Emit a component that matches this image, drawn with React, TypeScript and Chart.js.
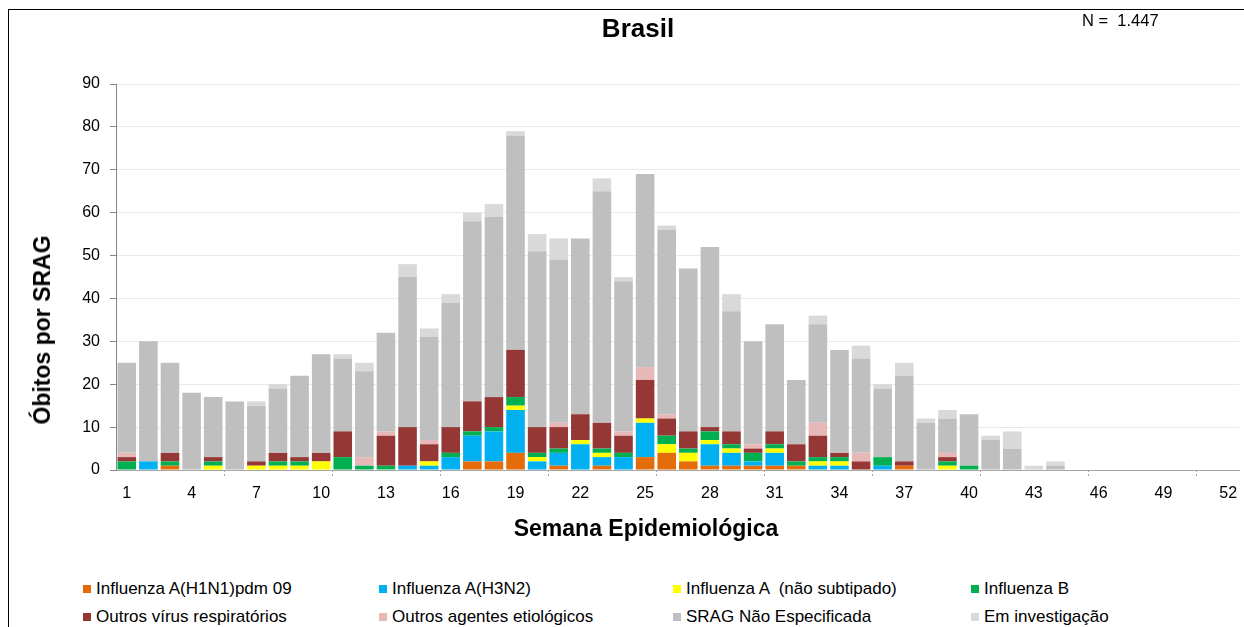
import React, { useEffect, useRef } from "react";
import { Chart, registerables } from "chart.js";

Chart.register(...registerables);

const FONT = "'Liberation Sans', Arial, sans-serif";

const weeks: string[] = Array.from({ length: 52 }, (_, i) => String(i + 1));
const tickLabelsShown: string[] = ["1", "4", "7", "10", "13", "16", "19", "22", "25", "28", "31", "34", "37", "40", "43", "46", "49", "52"];

const h1n1 = [0, 0, 1, 0, 0, 0, 0, 0, 0, 0, 0, 0, 0, 0, 0, 0, 2, 2, 4, 0, 1, 0, 1, 0, 3, 4, 2, 1, 1, 1, 1, 1, 0, 0, 0, 0, 1, 0, 0, 0, 0, 0, 0, 0, 0, 0, 0, 0, 0, 0, 0, 0];
const h3n2 = [0, 2, 0, 0, 0, 0, 0, 0, 0, 0, 0, 0, 0, 1, 1, 3, 6, 7, 10, 2, 3, 6, 2, 3, 8, 0, 0, 5, 3, 1, 3, 0, 1, 1, 0, 1, 0, 0, 0, 0, 0, 0, 0, 0, 0, 0, 0, 0, 0, 0, 0, 0];
const fluANaoSubtipado = [0, 0, 0, 0, 1, 0, 1, 1, 1, 2, 0, 0, 0, 0, 1, 0, 0, 0, 1, 1, 0, 1, 1, 0, 1, 2, 2, 1, 1, 0, 1, 0, 1, 1, 0, 0, 0, 0, 1, 0, 0, 0, 0, 0, 0, 0, 0, 0, 0, 0, 0, 0];
const fluB = [2, 0, 1, 0, 1, 0, 0, 1, 1, 0, 3, 1, 1, 0, 0, 1, 1, 1, 2, 1, 1, 0, 1, 1, 0, 2, 1, 2, 1, 2, 1, 1, 1, 1, 0, 2, 0, 0, 1, 1, 0, 0, 0, 0, 0, 0, 0, 0, 0, 0, 0, 0];
const outrosVirus = [1, 0, 2, 0, 1, 0, 1, 2, 1, 2, 6, 0, 7, 9, 4, 6, 7, 7, 11, 6, 5, 6, 6, 4, 9, 4, 4, 1, 3, 1, 3, 4, 5, 1, 2, 0, 1, 0, 1, 0, 0, 0, 0, 0, 0, 0, 0, 0, 0, 0, 0, 0];
const outrosAgentes = [1, 0, 0, 0, 0, 0, 0, 0, 0, 0, 0, 2, 1, 0, 1, 0, 0, 0, 0, 0, 1, 0, 0, 1, 3, 1, 0, 0, 0, 1, 0, 0, 3, 0, 2, 0, 0, 0, 1, 0, 0, 0, 0, 0, 0, 0, 0, 0, 0, 0, 0, 0];
const sragNaoEspecificada = [21, 28, 21, 18, 14, 16, 13, 15, 19, 23, 17, 20, 23, 35, 24, 29, 42, 42, 50, 41, 38, 41, 54, 35, 45, 43, 38, 42, 28, 24, 25, 15, 23, 24, 22, 16, 20, 11, 8, 12, 7, 5, 0, 1, 0, 0, 0, 0, 0, 0, 0, 0];
const emInvestigacao = [0, 0, 0, 0, 0, 0, 1, 1, 0, 0, 1, 2, 0, 3, 2, 2, 2, 3, 1, 4, 5, 0, 3, 1, 0, 1, 0, 0, 4, 0, 0, 0, 2, 0, 3, 1, 3, 1, 2, 0, 1, 4, 1, 1, 0, 0, 0, 0, 0, 0, 0, 0];

const seriesNames = [
  "Influenza A(H1N1)pdm 09",
  "Influenza A(H3N2)",
  "Influenza A  (não subtipado)",
  "Influenza B",
  "Outros vírus respiratórios",
  "Outros agentes etiológicos",
  "SRAG Não Especificada",
  "Em investigação",
];
const seriesColors = ["#E46C0A", "#00B0F0", "#FFFF00", "#00B050", "#953735", "#E6B9B8", "#BFBFBF", "#D9D9D9"];
const seriesData = [h1n1, h3n2, fluANaoSubtipado, fluB, outrosVirus, outrosAgentes, sragNaoEspecificada, emInvestigacao];

const yTicks = [0, 10, 20, 30, 40, 50, 60, 70, 80, 90];

const boundaryTicks = {
  id: "boundaryTicks",
  afterDraw(chart: any) {
    const x = chart.scales.x;
    const area = chart.chartArea;
    const ctx = chart.ctx;
    ctx.save();
    ctx.strokeStyle = "#A6A6A6";
    ctx.lineWidth = 1;
    ctx.setLineDash([2, 2]);
    for (let i = 5; i < weeks.length; i += 5) {
      const px = (x.getPixelForValue(i - 1) + x.getPixelForValue(i)) / 2;
      ctx.beginPath();
      ctx.moveTo(Math.round(px) + 0.5, area.bottom);
      ctx.lineTo(Math.round(px) + 0.5, area.bottom + 6);
      ctx.stroke();
    }
    ctx.restore();
  },
};

export default function App() {
  const ref = useRef<HTMLCanvasElement | null>(null);

  useEffect(() => {
    if (!ref.current) return;
    const chart = new Chart(ref.current, {
      type: "bar",
      data: {
        labels: weeks,
        datasets: seriesNames.map((name, i) => ({
          label: name,
          data: seriesData[i],
          backgroundColor: seriesColors[i],
          borderWidth: 0,
          barPercentage: 0.86,
          categoryPercentage: 1,
        })),
      },
      options: {
        responsive: false,
        animation: false,
        maintainAspectRatio: false,
        layout: { padding: { top: 84, right: 0, left: 0, bottom: 0 } },
        plugins: {
          legend: { display: false },
          title: { display: false },
          tooltip: { enabled: false },
        },
        scales: {
          x: {
            stacked: true,
            grid: { display: true, drawOnChartArea: false, drawTicks: false, color: "rgba(0,0,0,0)" },
            border: { display: true, color: "#A6A6A6", dash: [3, 3] },
            ticks: {
              autoSkip: false,
              maxRotation: 0,
              padding: 14,
              color: "#000",
              font: { family: FONT, size: 16 },
              callback: (_v: any, idx: number) => (tickLabelsShown.includes(weeks[idx]) ? weeks[idx] : null),
            },
            afterFit: (s: any) => {
              s.height = 90;
              s.paddingRight = 5;
              s.paddingLeft = 0;
            },
          },
          y: {
            stacked: true,
            min: 0,
            max: 90,
            afterBuildTicks: (s: any) => {
              s.ticks = yTicks.map((v) => ({ value: v }));
            },
            grid: {
              color: (c: any) => (c.tick && c.tick.value === 0 ? "rgba(0,0,0,0)" : "#E9E9E9"),
              tickColor: "#868686",
              tickLength: 6,
            },
            border: { display: true, color: "#868686" },
            ticks: {
              padding: 10,
              color: "#000",
              font: { family: FONT, size: 16 },
            },
            afterFit: (s: any) => {
              s.width = 116;
            },
          },
        },
      },
      plugins: [boundaryTicks],
    });
    return () => chart.destroy();
  }, []);

  const legendCols = [83, 379, 673, 971];
  const legendRows = [589, 617];

  return (
    <div style={{ position: "absolute", left: 0, top: 0, width: 1244, height: 627, overflow: "hidden", background: "#fff", fontFamily: FONT }}>
      <div style={{ position: "absolute", left: 8, top: 9, width: 1300, height: 700, border: "1px solid #000", boxSizing: "border-box" }} />
      <canvas ref={ref} width={1244} height={560} style={{ position: "absolute", left: 0, top: 0, width: 1244, height: 560 }} />
      <div style={{ position: "absolute", left: 538, width: 200, top: 12, textAlign: "center", fontWeight: "bold", fontSize: 26, lineHeight: "32px", color: "#000" }}>Brasil</div>
      <div style={{ position: "absolute", left: 1082, top: 10, fontSize: 16.5, lineHeight: "20px", color: "#000", whiteSpace: "pre" }}>{"N =  1.447"}</div>
      <div
        style={{
          position: "absolute",
          left: 42,
          top: 330,
          transform: "translate(-50%, -50%) rotate(-90deg)",
          fontWeight: "bold",
          fontSize: 23,
          lineHeight: "26px",
          whiteSpace: "nowrap",
          color: "#000",
        }}
      >
        Óbitos por SRAG
      </div>
      <div style={{ position: "absolute", left: 446, width: 400, top: 515, textAlign: "center", fontWeight: "bold", fontSize: 23, lineHeight: "26px", color: "#000" }}>
        Semana Epidemiológica
      </div>
      {seriesNames.map((name, i) => {
        const col = i % 4;
        const row = Math.floor(i / 4);
        return (
          <div key={name} style={{ position: "absolute", left: legendCols[col], top: legendRows[row] - 10, height: 20, display: "flex", alignItems: "center", whiteSpace: "pre" }}>
            <span style={{ display: "inline-block", width: 8, height: 8, background: seriesColors[i], marginRight: 5 }} />
            <span style={{ fontSize: 17, lineHeight: "20px", color: "#000" }}>{name}</span>
          </div>
        );
      })}
    </div>
  );
}
